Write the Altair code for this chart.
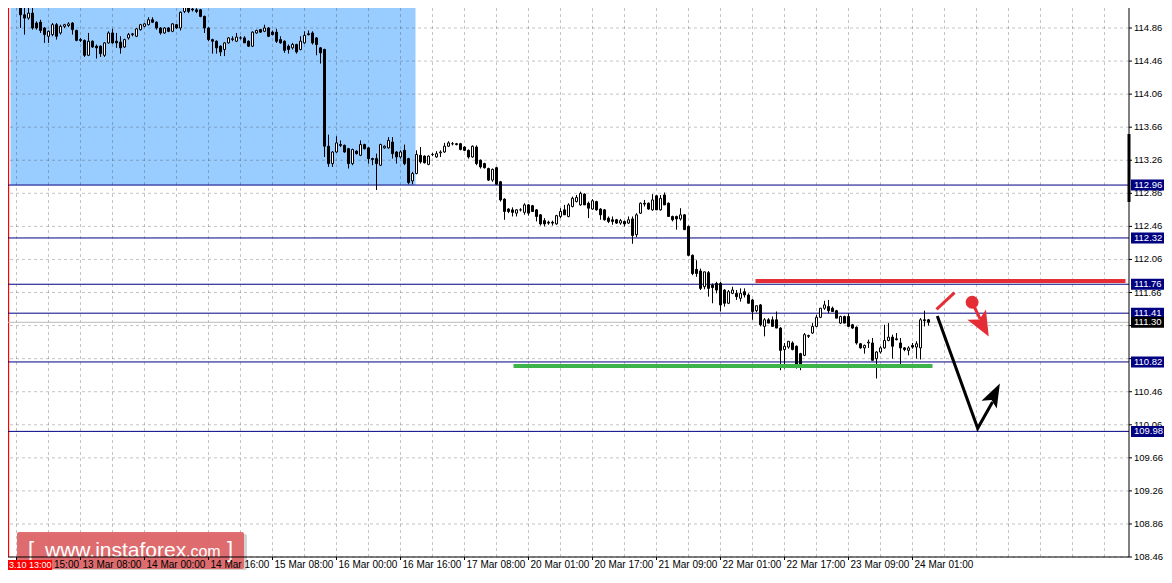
import altair as alt
import pandas as pd

# ---------------- layout ----------------
W, H = 1121, 549
X0 = -1.125
X1 = X0 + W / 4.0
Y1 = 115.102
Y0 = Y1 - H / 82.66
FONT = "Liberation Sans"

# ---------------- candle data (H1 bars) ----------------
bar_index = list(range(1, 230))
open_ = [115.24,115.25,115.02,114.98,115.04,114.92,114.93,114.86,114.76,114.78,
         114.90,114.80,114.88,114.89,114.92,114.83,114.72,114.71,114.53,114.70,
         114.64,114.64,114.53,114.68,114.80,114.70,114.69,114.63,114.74,114.78,
         114.76,114.84,114.88,114.90,114.96,114.93,114.86,114.80,114.86,114.82,
         114.90,114.86,115.06,115.18,115.09,115.08,115.08,115.00,114.86,114.72,
         114.70,114.64,114.60,114.68,114.72,114.70,114.74,114.74,114.70,114.64,
         114.80,114.84,114.82,114.86,114.81,114.81,114.72,114.70,114.64,114.62,
         114.66,114.60,114.68,114.79,114.80,114.74,114.62,114.60,113.43,113.22,
         113.36,113.45,113.44,113.40,113.22,113.37,113.32,113.45,113.41,113.28,
         113.28,113.20,113.41,113.41,113.48,113.36,113.30,113.38,113.28,113.01,
         113.10,113.32,113.31,113.21,113.33,113.30,113.35,113.36,113.43,113.46,
         113.46,113.46,113.42,113.38,113.30,113.42,113.26,113.22,113.16,113.02,
         113.17,113.00,112.79,112.67,112.66,112.62,112.66,112.63,112.72,112.71,
         112.66,112.60,112.53,112.51,112.51,112.49,112.58,112.66,112.58,112.70,
         112.76,112.72,112.85,112.74,112.67,112.76,112.67,112.66,112.56,112.54,
         112.54,112.50,112.52,112.50,112.55,112.36,112.62,112.74,112.74,112.66,
         112.83,112.66,112.84,112.74,112.58,112.58,112.55,112.60,112.46,112.11,
         111.94,111.92,111.73,111.90,111.75,111.77,111.77,111.69,111.53,111.65,
         111.65,111.59,111.67,111.63,111.57,111.44,111.51,111.25,111.33,111.33,
         111.33,111.23,110.97,111.00,111.05,111.01,110.92,110.90,111.13,111.17,
         111.25,111.36,111.47,111.49,111.47,111.44,111.29,111.37,111.37,111.27,
         111.24,111.04,110.99,111.05,111.05,110.86,110.94,110.99,111.08,111.12,
         111.10,111.05,110.99,110.96,111.02,111.00,110.99,111.33,111.33]
high = [115.30,115.28,115.16,115.14,115.16,114.94,114.96,114.87,114.83,114.92,
        114.92,114.90,114.91,114.93,114.93,114.84,114.74,114.72,114.80,114.71,
        114.66,114.65,114.69,114.82,114.85,114.80,114.76,114.73,114.80,114.80,
        114.86,114.91,114.92,114.99,114.99,114.94,114.87,114.87,114.87,114.92,
        114.91,115.06,115.20,115.20,115.14,115.10,115.09,115.01,114.87,114.73,
        114.71,114.65,114.69,114.75,114.76,114.80,114.76,114.76,114.71,114.82,
        114.84,114.85,114.90,114.87,114.83,114.85,114.76,114.71,114.66,114.68,
        114.67,114.76,114.82,114.83,114.82,114.75,114.63,114.61,113.57,113.37,
        113.55,113.50,113.45,113.41,113.40,113.38,113.50,113.46,113.42,113.29,
        113.34,113.46,113.44,113.54,113.54,113.37,113.38,113.45,113.29,113.12,
        113.38,113.42,113.32,113.32,113.35,113.37,113.38,113.47,113.49,113.48,
        113.47,113.47,113.43,113.39,113.44,113.44,113.27,113.23,113.17,113.16,
        113.18,113.01,112.80,112.68,112.69,112.67,112.68,112.74,112.73,112.72,
        112.67,112.61,112.56,112.53,112.53,112.60,112.68,112.72,112.74,112.82,
        112.84,112.88,112.86,112.76,112.79,112.77,112.68,112.67,112.58,112.58,
        112.55,112.55,112.53,112.58,112.58,112.62,112.75,112.78,112.75,112.85,
        112.84,112.84,112.87,112.75,112.59,112.59,112.68,112.61,112.47,112.12,
        112.05,111.95,111.91,111.92,111.77,111.79,111.79,111.70,111.69,111.73,
        111.69,111.71,111.71,111.65,111.58,111.50,111.52,111.35,111.35,111.37,
        111.43,111.24,111.05,111.07,111.07,111.02,110.93,111.17,111.15,111.29,
        111.39,111.47,111.56,111.57,111.49,111.45,111.38,111.38,111.41,111.28,
        111.25,111.05,111.03,111.09,111.11,110.95,111.01,111.27,111.29,111.15,
        111.17,111.11,111.00,111.01,111.05,111.07,111.35,111.44,111.34]
low = [115.10,114.86,114.78,114.96,114.84,114.84,114.80,114.68,114.68,114.76,
       114.72,114.78,114.86,114.87,114.78,114.70,114.69,114.51,114.52,114.62,
       114.49,114.51,114.51,114.67,114.67,114.62,114.55,114.62,114.72,114.76,
       114.75,114.83,114.87,114.89,114.92,114.84,114.78,114.79,114.81,114.81,
       114.85,114.83,115.04,115.04,115.06,115.04,114.99,114.80,114.70,114.55,
       114.55,114.52,114.52,114.67,114.70,114.69,114.72,114.68,114.63,114.63,
       114.79,114.80,114.81,114.75,114.77,114.68,114.67,114.56,114.55,114.60,
       114.55,114.59,114.67,114.77,114.66,114.53,114.43,113.30,113.18,113.18,
       113.35,113.42,113.35,113.16,113.20,113.33,113.31,113.39,113.22,113.20,
       112.90,113.19,113.40,113.40,113.28,113.22,113.28,113.20,112.97,112.97,
       113.09,113.22,113.22,113.20,113.31,113.29,113.30,113.35,113.42,113.44,
       113.44,113.38,113.37,113.28,113.29,113.20,113.16,113.16,113.01,113.00,
       112.96,112.76,112.54,112.62,112.58,112.58,112.64,112.60,112.59,112.64,
       112.52,112.47,112.46,112.48,112.47,112.48,112.56,112.60,112.57,112.69,
       112.75,112.71,112.72,112.56,112.66,112.65,112.54,112.53,112.50,112.48,
       112.49,112.48,112.46,112.49,112.25,112.33,112.61,112.70,112.66,112.65,
       112.66,112.65,112.72,112.58,112.52,112.42,112.53,112.42,112.10,111.87,
       111.85,111.69,111.70,111.61,111.53,111.65,111.43,111.49,111.52,111.64,
       111.57,111.55,111.60,111.53,111.33,111.42,111.25,111.13,111.29,111.25,
       111.23,110.72,110.74,110.98,110.96,110.74,110.72,110.89,111.11,111.16,
       111.24,111.35,111.45,111.41,111.43,111.35,111.28,111.29,111.25,111.22,
       111.03,110.98,110.92,110.99,110.84,110.62,110.92,110.98,111.07,110.86,
       111.08,110.76,110.95,110.90,110.98,110.86,110.85,111.25,111.26]
close = [115.22,115.02,114.98,115.04,114.86,114.86,114.83,114.78,114.82,114.90,
         114.76,114.88,114.90,114.91,114.84,114.71,114.71,114.53,114.70,114.63,
         114.62,114.55,114.68,114.80,114.68,114.68,114.62,114.72,114.78,114.79,
         114.85,114.90,114.91,114.96,114.93,114.86,114.80,114.86,114.82,114.91,
         114.86,115.05,115.18,115.06,115.08,115.06,115.00,114.86,114.72,114.70,
         114.62,114.57,114.68,114.74,114.73,114.75,114.74,114.68,114.64,114.81,
         114.83,114.81,114.86,114.76,114.78,114.70,114.68,114.59,114.60,114.66,
         114.57,114.70,114.77,114.78,114.68,114.66,114.56,113.43,113.22,113.36,
         113.47,113.44,113.36,113.22,113.39,113.34,113.45,113.40,113.28,113.27,
         113.22,113.45,113.43,113.50,113.34,113.30,113.36,113.22,112.99,113.10,
         113.33,113.24,113.23,113.31,113.33,113.34,113.36,113.43,113.47,113.46,
         113.45,113.39,113.38,113.30,113.43,113.22,113.18,113.17,113.02,113.15,
         112.97,112.78,112.64,112.64,112.63,112.66,112.66,112.72,112.62,112.64,
         112.58,112.49,112.49,112.50,112.50,112.59,112.64,112.60,112.72,112.80,
         112.81,112.86,112.72,112.68,112.77,112.66,112.60,112.54,112.52,112.52,
         112.50,112.53,112.49,112.54,112.35,112.60,112.74,112.73,112.67,112.78,
         112.66,112.80,112.72,112.58,112.54,112.55,112.60,112.42,112.11,111.89,
         111.89,111.71,111.91,111.71,111.72,111.69,111.51,111.53,111.67,111.69,
         111.61,111.65,111.63,111.53,111.43,111.50,111.27,111.33,111.29,111.25,
         111.23,110.96,111.01,111.07,110.97,110.79,110.76,111.15,111.14,111.25,
         111.36,111.47,111.51,111.44,111.43,111.35,111.37,111.29,111.25,111.23,
         111.05,110.99,111.02,111.06,110.84,110.94,110.99,111.08,111.12,111.01,
         111.09,110.99,110.97,110.99,111.00,111.04,111.33,111.32,111.30]

# ---------------- axes ----------------
time_tick_index = [1 + 16 * k for k in range(15)]
time_labels = ["15:00", "13 Mar 08:00", "14 Mar 00:00", "14 Mar 16:00",
               "15 Mar 08:00", "16 Mar 00:00", "16 Mar 16:00", "17 Mar 08:00",
               "20 Mar 01:00", "20 Mar 17:00", "21 Mar 09:00", "22 Mar 01:00",
               "22 Mar 17:00", "23 Mar 09:00", "24 Mar 01:00"]
price_ticks = [108.46, 108.86, 109.26, 109.66, 110.06, 110.46, 110.86, 111.26,
               111.66, 112.06, 112.46, 112.86, 113.26, 113.66, 114.06, 114.46, 114.86]
price_tick_labels = ["108.46", "108.86", "109.26", "109.66", "110.06", "110.46", "", "",
                     "111.66", "112.06", "112.46", "112.86", "113.26", "113.66", "114.06",
                     "114.46", "114.86"]
grid_x_index = [1 + 8 * k for k in range(35)]

# ---------------- chart objects ----------------
level_lines = [112.96, 112.32, 111.76, 111.41, 110.82, 109.98]
bid_price = 111.30
box_start, box_end, box_top, box_bottom = -0.5, 100.75, 115.3, 112.96
resist_x, resist_x2, resist_y = 185.75, 278.25, 111.80
support_x, support_x2, support_y = 125.25, 230.0, 110.77
path_black_x = [231.2, 241.3, 245.0]
path_black_y = [111.376, 110.017, 110.335]
red_stroke_x = [231.0, 235.5]
red_stroke_y = [111.457, 111.658]
red_shaft_x = [239.9, 241.9]
red_shaft_y = [111.542, 111.34]
red_dot = (239.9, 111.542)
head_black = (245.5, 110.431, 27)
head_red = (242.55, 111.26, 151)
marker_bar = (113.578, 112.755)
start_line_index = -1

df = pd.DataFrame({"i": bar_index, "o": open_, "h": high, "l": low, "c": close})
df["dir"] = ["up" if c > o else "down" for o, c in zip(df["o"], df["c"])]

xs = alt.Scale(domain=[X0, X1], nice=False, zero=False, padding=0)
ys = alt.Scale(domain=[Y0, Y1], nice=False, zero=False, padding=0)

def X(f):
    return alt.X(f, type="quantitative", scale=xs, axis=None)

def Y(f):
    return alt.Y(f, type="quantitative", scale=ys, axis=None)

RED = "#e52d36"
NAVY = "#000080"

# background box
box = alt.Chart(pd.DataFrame({"x": [box_start], "x2": [box_end], "y": [box_bottom], "y2": [box_top]})).mark_rect(
    color="#99ccff", clip=True).encode(x=X("x"), x2="x2", y=Y("y"), y2="y2")

gridv = alt.Chart(pd.DataFrame({"x": grid_x_index})).mark_rule(
    color="#3c3c3c", opacity=0.3, strokeDash=[3, 3], strokeWidth=1).encode(x=X("x"))
gridh = alt.Chart(pd.DataFrame({"y": price_ticks})).mark_rule(
    color="#3c3c3c", opacity=0.3, strokeDash=[3, 3], strokeWidth=1).encode(y=Y("y"))

startline = alt.Chart(pd.DataFrame({"x": [start_line_index]})).mark_rule(
    color="#ff0000", strokeWidth=1.3).encode(x=X("x"))

bidline = alt.Chart(pd.DataFrame({"y": [bid_price]})).mark_rule(
    color="#b8b8b8", strokeWidth=1).encode(y=Y("y"))
levels = alt.Chart(pd.DataFrame({"y": level_lines})).mark_rule(
    color=NAVY, strokeWidth=1).encode(y=Y("y"))

wicks = alt.Chart(df).mark_rule(color="black", strokeWidth=1, clip=True).encode(
    x=X("i"), y=Y("l"), y2="h:Q")

bodies = alt.Chart(df).mark_bar(size=2, stroke="black", strokeWidth=1, clip=True).encode(
    x=X("i"), y=Y("o"), y2="c:Q",
    fill=alt.Fill("dir:N", scale=alt.Scale(domain=["up", "down"], range=["white", "black"]), legend=None))

resist = alt.Chart(pd.DataFrame({"x": [resist_x], "x2": [resist_x2], "y": [resist_y]})).mark_rule(
    color=RED, strokeWidth=4).encode(x=X("x"), x2="x2", y=Y("y"))
support = alt.Chart(pd.DataFrame({"x": [support_x], "x2": [support_x2], "y": [support_y]})).mark_rule(
    color="#3cb44a", strokeWidth=4).encode(x=X("x"), x2="x2", y=Y("y"))

black_path = alt.Chart(pd.DataFrame({"x": path_black_x, "y": path_black_y, "k": [0, 1, 2]})).mark_line(
    color="black", strokeWidth=3).encode(x=X("x"), y=Y("y"), order="k:Q")
red_stroke = alt.Chart(pd.DataFrame({"x": red_stroke_x, "y": red_stroke_y, "k": [0, 1]})).mark_line(
    color=RED, strokeWidth=3).encode(x=X("x"), y=Y("y"), order="k:Q")
red_shaft = alt.Chart(pd.DataFrame({"x": red_shaft_x, "y": red_shaft_y, "k": [0, 1]})).mark_line(
    color=RED, strokeWidth=3).encode(x=X("x"), y=Y("y"), order="k:Q")
dot = alt.Chart(pd.DataFrame({"x": [red_dot[0]], "y": [red_dot[1]]})).mark_point(
    shape="circle", filled=True, color=RED, size=165, opacity=1).encode(x=X("x"), y=Y("y"))

bhead = alt.Chart(pd.DataFrame({"x": [head_black[0]], "y": [head_black[1]]})).mark_point(
    shape="M0,-1L0.72,1L0,0.55L-0.72,1Z", filled=True, color="black", size=560,
    angle=head_black[2], opacity=1).encode(x=X("x"), y=Y("y"))
rhead = alt.Chart(pd.DataFrame({"x": [head_red[0]], "y": [head_red[1]]})).mark_point(
    shape="M0,-1L0.85,1L0,0.55L-0.85,1Z", filled=True, color=RED, size=620,
    angle=head_red[2], opacity=1).encode(x=X("x"), y=Y("y"))

# watermark (under the axis texts)
wm_shadow = alt.Chart(pd.DataFrame({"a": [0]})).mark_rect(color="#808080", opacity=0.35, cornerRadius=2).encode(
    x=alt.value(11), x2=alt.value(239), y=alt.value(526), y2=alt.value(H + 13))
wm_box = alt.Chart(pd.DataFrame({"a": [0]})).mark_rect(color="#df6466", opacity=0.93, cornerRadius=2).encode(
    x=alt.value(9), x2=alt.value(236), y=alt.value(524), y2=alt.value(H + 12))
wm_parts = pd.DataFrame({"t": ["[", "www.instaforex", ".com", "]"],
                         "px": [20, 37, 178, 219],
                         "fs": [22, 21, 16, 22]})
wm_text = alt.Chart(wm_parts).mark_text(align="left", baseline="alphabetic", color="white", font=FONT).encode(
    x=alt.X("px:Q", scale=None, axis=None), y=alt.value(549), text="t:N",
    size=alt.Size("fs:Q", scale=None, legend=None))

# ---- hand-built axes ----
right_domain = alt.Chart(pd.DataFrame({"x": [X1]})).mark_rule(color="black", strokeWidth=1).encode(x=X("x"))
bottom_domain = alt.Chart(pd.DataFrame({"y": [Y0]})).mark_rule(color="black", strokeWidth=1).encode(y=Y("y"))
yticks = alt.Chart(pd.DataFrame({"p": price_ticks})).mark_rule(color="black", strokeWidth=1).encode(
    x=alt.value(W), x2=alt.value(W + 3), y=Y("p"))
ylabels = alt.Chart(pd.DataFrame({"p": price_ticks, "t": price_tick_labels})).mark_text(
    align="left", baseline="middle", font=FONT, fontSize=9.5, color="black").encode(
    x=alt.value(W + 5), y=Y("p"), text="t:N")
xticks = alt.Chart(pd.DataFrame({"i": time_tick_index})).mark_rule(color="black", strokeWidth=1).encode(
    x=X("i"), y=alt.value(H), y2=alt.value(H + 3))
xlab_df = pd.DataFrame({"i": time_tick_index[1:], "t": time_labels[1:]})
xlabels = alt.Chart(xlab_df).mark_text(
    align="left", baseline="top", font=FONT, fontSize=10, color="black", dx=2).encode(
    x=X("i"), y=alt.value(H + 3), text="t:N")
xlabel_first = alt.Chart(pd.DataFrame({"t": [time_labels[0]]})).mark_text(
    align="left", baseline="top", font=FONT, fontSize=10, color="black").encode(
    x=alt.value(46), y=alt.value(H + 3), text="t:N")

mbar = alt.Chart(pd.DataFrame({"x": [X1], "y": [marker_bar[0]], "y2": [marker_bar[1]]})).mark_rule(
    color="black", strokeWidth=3).encode(x=X("x"), y=Y("y"), y2="y2")

# price boxes on the right scale
pbox_df = pd.DataFrame({"p": level_lines + [bid_price],
                        "t": ["%.2f" % v for v in level_lines + [bid_price]],
                        "kind": ["level"] * len(level_lines) + ["bid"]})
pboxes = alt.Chart(pbox_df).mark_tick(orient="horizontal", size=33, thickness=11, opacity=1).encode(
    x=alt.value(W + 18.5), y=Y("p"),
    color=alt.Color("kind:N", scale=alt.Scale(domain=["level", "bid"], range=[NAVY, "black"]), legend=None))
ptexts = alt.Chart(pbox_df).mark_text(align="left", baseline="middle", color="white",
                                      font=FONT, fontSize=9.5).encode(
    x=alt.value(W + 5), y=Y("p"), text="t:N")

# red time marker label at the bottom left
tlabel_box = alt.Chart(pd.DataFrame({"a": [0]})).mark_rect(color="#ff0000").encode(
    x=alt.value(0), x2=alt.value(44), y=alt.value(H + 3), y2=alt.value(H + 13))
tlabel_text = alt.Chart(pd.DataFrame({"t": ["3.10 13:00"]})).mark_text(
    align="left", baseline="middle", color="white", font=FONT, fontSize=9).encode(
    x=alt.value(1), y=alt.value(H + 8), text="t:N")

chart = alt.layer(
    box, gridv, gridh, startline, bidline, levels, wicks, bodies,
    resist, support, black_path, red_stroke, red_shaft, dot, bhead, rhead,
    wm_shadow, wm_box, wm_text,
    right_domain, bottom_domain, yticks, ylabels, xticks, xlabels, xlabel_first,
    mbar, pboxes, ptexts, tlabel_box, tlabel_text
).properties(
    width=W, height=H, background="white",
    autosize=alt.AutoSizeParams(type="none"),
    padding={"left": 0, "top": 0, "right": 35, "bottom": 15},
).configure_view(stroke=None)

chart.save("out.html", embed_options={"renderer": "svg", "actions": False})
